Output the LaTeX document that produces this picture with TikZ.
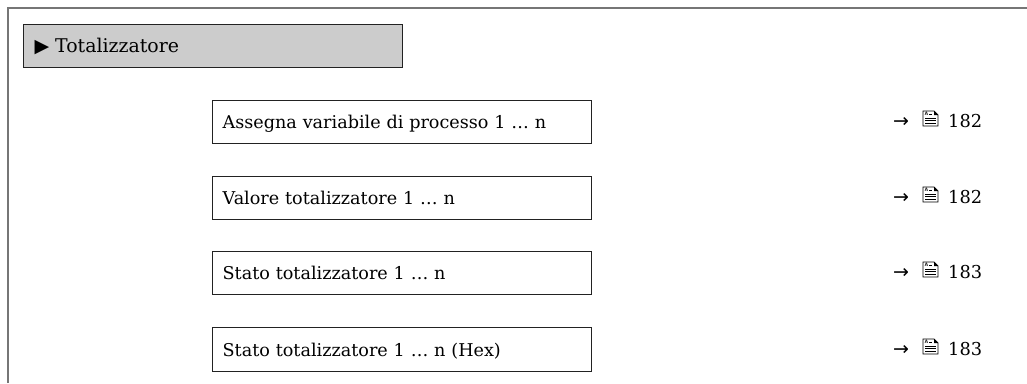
\documentclass[tikz,border=0pt]{standalone}
\usepackage{fontspec}
\setmainfont{DejaVu Serif}
\newfontfamily\symfont{DejaVu Sans}
\definecolor{framegray}{HTML}{767676}
\definecolor{titlefill}{HTML}{CCCCCC}
\definecolor{boxline}{HTML}{222222}
\begin{document}
\begin{tikzpicture}[x=1pt,y=-1pt,
  titlebox/.style={draw=boxline, line width=1.2pt, fill=titlefill, anchor=north west,
    minimum width=379pt, minimum height=43pt, text width=355pt, inner xsep=12pt, inner ysep=0pt,
    align=left, text height=13pt, text depth=0pt, font=\fontsize{18.9}{22}\selectfont},
  entrybox/.style={draw=boxline, line width=1.3pt, anchor=north west,
    minimum width=379pt, minimum height=43pt, text width=359pt, inner xsep=10pt, inner ysep=0pt,
    align=left, text height=13pt, text depth=0pt, font=\fontsize{17.6}{21}\selectfont},
  arrowtxt/.style={anchor=base west, inner sep=0pt, font=\symfont\fontsize{19}{20}\selectfont},
  pagenum/.style={anchor=base west, inner sep=0pt, font=\fontsize{17.8}{21}\selectfont},
  pics/docicon/.style={code={
    \draw[line width=0.9pt] (0,0) -- (11,0) -- (15,4) -- (15,15) -- (0,15) -- cycle;
    \fill (11,0) -- (15,4) -- (11,4) -- cycle;
    \node[inner sep=0pt, font=\sffamily\fontsize{5}{5}\selectfont\bfseries] at (3.5,3) {A};
    \draw[line width=0.7pt] (6,3) -- (9,3);
    \draw[line width=0.7pt] (2,7) -- (13,7) (2,9.5) -- (13,9.5) (2,12) -- (13,12);
  }}
]
\useasboundingbox (0,0) rectangle (1027,383);
\draw[framegray, line width=1.8pt] (8,383) -- (8,8) -- (1027,8);
\node[titlebox] (title) at (23,24) {\hspace*{-1pt}{\symfont\fontsize{19}{19}\selectfont ▶}\hspace{6pt}Totalizzatore};

\node[entrybox] (e1) at (212,100) {Assegna variabile di processo 1 … n};
\node[entrybox] (e2) at (212,176) {Valore totalizzatore 1 … n};
\node[entrybox] (e3) at (212,251) {Stato totalizzatore 1 … n};
\node[entrybox, minimum height=44pt] (e4) at (212,327) {Stato totalizzatore 1 … n (Hex)};

\foreach \r/\y/\n in {1/127/182, 2/203/182, 3/278/183, 4/355/183}{
  \node[arrowtxt] (a\r) at (893,\y) {→};
  \pic at (923,\y-16) {docicon};
  \node[pagenum] (p\r) at (948,\y) {\n};
}
\end{tikzpicture}
\end{document}
